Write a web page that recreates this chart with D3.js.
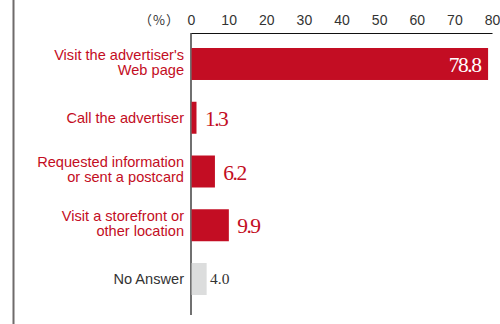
<!DOCTYPE html>
<html>
<head>
<meta charset="utf-8">
<script src="https://cdn.jsdelivr.net/npm/d3@7"></script>
<style>
  html, body { margin: 0; padding: 0; background: #fff; }
  svg { display: block; }
</style>
</head>
<body>
<script>
// Responses (multi-line category labels) and their shares in percent
const categories = [
  ["Visit the advertiser's", "Web page"],
  ["Call the advertiser"],
  ["Requested information", "or sent a postcard"],
  ["Visit a storefront or", "other location"],
  ["No Answer"]
];
const values = [78.8, 1.3, 6.2, 9.9, 4.0];
const isNoAnswer = [false, false, false, false, true];
const tickValues = [0, 10, 20, 30, 40, 50, 60, 70, 80];
const unitLabel = "（%）";

const W = 500, H = 324;
const RED = "#c30d23", GRAY_BAR = "#dcdddd", DARK = "#333";

const svg = d3.select("body").append("svg")
  .attr("width", W).attr("height", H);

// left rule
svg.append("line")
  .attr("x1", 13.5).attr("x2", 13.5).attr("y1", 0).attr("y2", H)
  .attr("stroke", "#6f6b6b").attr("stroke-width", 2);

const x = d3.scaleLinear().domain([0, 80]).range([191, 492]);
const y = d3.scaleBand()
  .domain(d3.range(values.length))
  .range([37.25, 305.75])
  .paddingInner(0.405)
  .paddingOuter(0.2);

// top axis
const axis = d3.axisTop(x).tickValues(tickValues).tickSize(0).tickPadding(8);
const gAxis = svg.append("g").attr("transform", "translate(0,33)").call(axis);
gAxis.select(".domain").attr("stroke", "#111").attr("stroke-width", 1.2);
gAxis.selectAll("text")
  .attr("font-family", "Liberation Sans, Arial, sans-serif")
  .attr("font-size", 14).attr("fill", DARK);

// unit label, set with full-width parentheses
svg.append("text")
  .attr("x", 180).attr("y", 25)
  .attr("text-anchor", "end")
  .attr("font-family", "Noto Sans CJK JP, sans-serif")
  .attr("font-size", 13).attr("fill", DARK)
  .attr("letter-spacing", 1)
  .text(unitLabel);

// vertical baseline
svg.append("line")
  .attr("x1", x(0)).attr("x2", x(0)).attr("y1", 33).attr("y2", 315)
  .attr("stroke", "#111").attr("stroke-width", 1.2);

// bars
svg.append("g").selectAll("rect")
  .data(values)
  .join("rect")
  .attr("x", x(0) + 0.6)
  .attr("y", (d, i) => y(i))
  .attr("width", d => x(d) - x(0))
  .attr("height", y.bandwidth())
  .attr("fill", (d, i) => isNoAnswer[i] ? GRAY_BAR : RED);

// category labels
const lineH = 15;
svg.append("g").selectAll("text")
  .data(categories)
  .join("text")
  .attr("text-anchor", "end")
  .attr("font-family", "Liberation Sans, Arial, sans-serif")
  .attr("font-size", 14.6)
  .attr("fill", (d, i) => isNoAnswer[i] ? DARK : RED)
  .each(function (lines, i) {
    const cy = y(i) + y.bandwidth() / 2;
    const first = lines.length > 1 ? cy + 3.2 - lineH / 2 : cy + 5.2;
    d3.select(this).selectAll("tspan")
      .data(lines)
      .join("tspan")
      .attr("x", 184)
      .attr("y", (t, k) => first + k * lineH)
      .text(t => t);
  });

// value labels
svg.append("g").selectAll("text")
  .data(values)
  .join("text")
  .attr("font-family", "Liberation Serif, Times New Roman, serif")
  .attr("font-size", (d, i) => isNoAnswer[i] ? 15.5 : 21.5)
  .attr("letter-spacing", (d, i) => isNoAnswer[i] ? 0 : -1.5)
  .attr("text-anchor", (d, i) => i === 0 ? "end" : "start")
  .attr("fill", (d, i) => i === 0 ? "#fff" : (isNoAnswer[i] ? DARK : RED))
  .attr("x", (d, i) => i === 0 ? x(d) - 7 : x(d) + (isNoAnswer[i] ? 4 : 9))
  .attr("y", (d, i) => y(i) + y.bandwidth() / 2 + (isNoAnswer[i] ? 4.5 : 8))
  .text(d => d.toFixed(1));
</script>
</body>
</html>
